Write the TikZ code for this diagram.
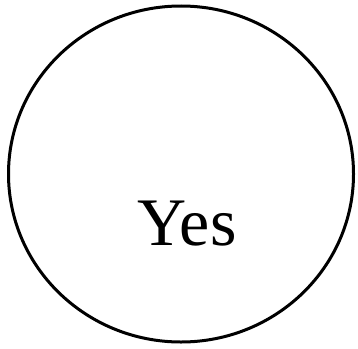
\documentclass[tikz,border=0pt]{standalone}
\usepackage{fontspec}
\setmainfont{Liberation Serif}
\usetikzlibrary{shapes.geometric}
\tikzset{
  ring/.style={
    draw=black, line width=3pt, ellipse, inner sep=0pt,
    minimum width=345pt, minimum height=336pt
  },
  answer/.style={font=\fontsize{68}{70}\selectfont, inner sep=0pt}
}
\begin{document}
\begin{tikzpicture}[x=1pt, y=1pt]
  \useasboundingbox (0,0) rectangle (358,-348);
  \node[ring] (circ) at (181,-174) {};
  \node[answer, anchor=base] (yes) at (187,-245) {Yes};
\end{tikzpicture}
\end{document}
